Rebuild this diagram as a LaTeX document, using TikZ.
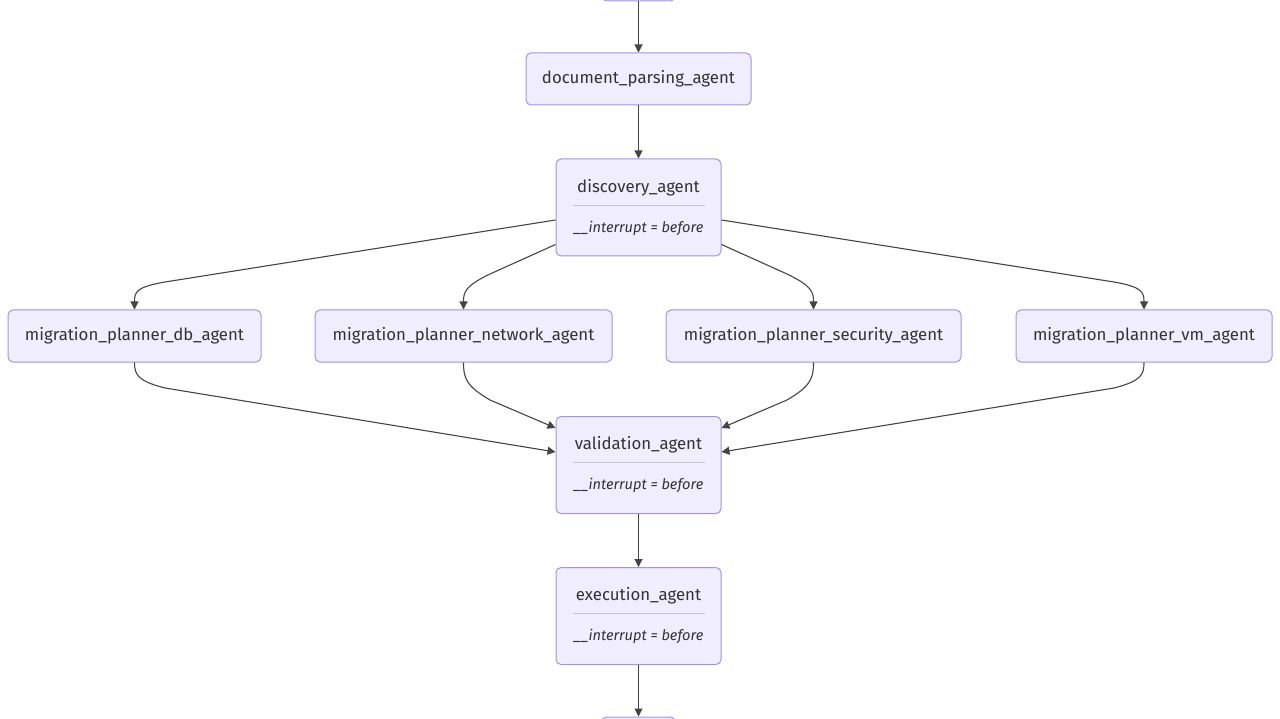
\documentclass[tikz,border=0pt]{standalone}
\usepackage{fontspec}
\setmainfont{Fira Sans}
\usepackage{tikz}
\usepackage{xcolor}
\usetikzlibrary{calc,arrows.meta}
\definecolor{agentFill}{HTML}{EFEDFE}
\definecolor{agentLine}{HTML}{A691E2}
\definecolor{agentText}{HTML}{333333}
\definecolor{edgeGray}{HTML}{444444}
\definecolor{sepGray}{HTML}{C8C8C8}
\newcommand{\agentname}[1]{{\fontsize{16.8}{20}\selectfont #1}}
\newcommand{\agentint}[1]{\agentname{#1}\\[4pt]{\color{sepGray}\rule[3pt]{132pt}{0.8pt}}\\[12pt]{\fontsize{14.6}{17}\selectfont\itshape \_\_interrupt = before}}
\tikzset{
  agentbox/.style={rectangle,rounded corners=5pt,draw=agentLine,fill=agentFill,line width=1pt,
    text=agentText,minimum height=52pt,inner xsep=14pt,align=center},
  intbox/.style={agentbox,minimum width=165pt,minimum height=97pt},
  edge/.style={draw=edgeGray,line width=1.1pt,-{Triangle[length=8pt,width=8pt]}}
}

\begin{document}
\begin{tikzpicture}[x=1pt,y=-1pt]
\useasboundingbox (0,0) rectangle (1280,719);
\clip (0,0) rectangle (1280,719);
\node[agentbox,minimum width=74pt,minimum height=50pt] (start) at (638.5,-24) {};
\node[agentbox,minimum width=225pt] (doc) at (638.5,79) {\agentname{document\_parsing\_agent}};
\node[intbox] (disc) at (638.5,207.5) {\agentint{discovery\_agent}};
\node[agentbox,minimum width=253pt] (db) at (134.5,336) {\agentname{migration\_planner\_db\_agent}};
\node[agentbox,minimum width=297pt] (net) at (463.5,336) {\agentname{migration\_planner\_network\_agent}};
\node[agentbox,minimum width=295pt] (sec) at (813.5,336) {\agentname{migration\_planner\_security\_agent}};
\node[agentbox,minimum width=256pt] (vm) at (1144,336) {\agentname{migration\_planner\_vm\_agent}};
\node[intbox] (val) at (638.5,465) {\agentint{validation\_agent}};
\node[intbox] (exe) at (638.5,616) {\agentint{execution\_agent}};
\node[agentbox,minimum width=74pt,minimum height=50pt] (stop) at (638.5,742) {};

\draw[edge] (start) -- (doc);
\draw[edge] (doc) -- (disc);
\draw[edge] ($(disc.west)+(0,12.5)$) -- (165,282) .. controls (136,287) and (134.5,292) .. (db.north);
\draw[edge] ($(disc.south west)+(0,-12)$) -- (490,274) .. controls (465,286) and (463.5,292) .. (net.north);
\draw[edge] ($(disc.south east)+(0,-12)$) -- (787,274) .. controls (812,286) and (813.5,292) .. (sec.north);
\draw[edge] ($(disc.east)+(0,12.5)$) -- (1114,282) .. controls (1142,287) and (1144,292) .. (vm.north);
\draw[edge] (db.south) .. controls (134.5,375) and (138,381) .. (165,388) -- ($(val.west)+(0,-13)$);
\draw[edge] (net.south) .. controls (463.5,378) and (466,386) .. (490,400) -- ($(val.north west)+(0,12)$);
\draw[edge] (sec.south) .. controls (813.5,378) and (811,386) .. (787,400) -- ($(val.north east)+(0,12)$);
\draw[edge] (vm.south) .. controls (1144,375) and (1141,381) .. (1114,388) -- ($(val.east)+(0,-13)$);
\draw[edge] (val) -- (exe);
\draw[edge] (exe) -- (stop);
\end{tikzpicture}
\end{document}
